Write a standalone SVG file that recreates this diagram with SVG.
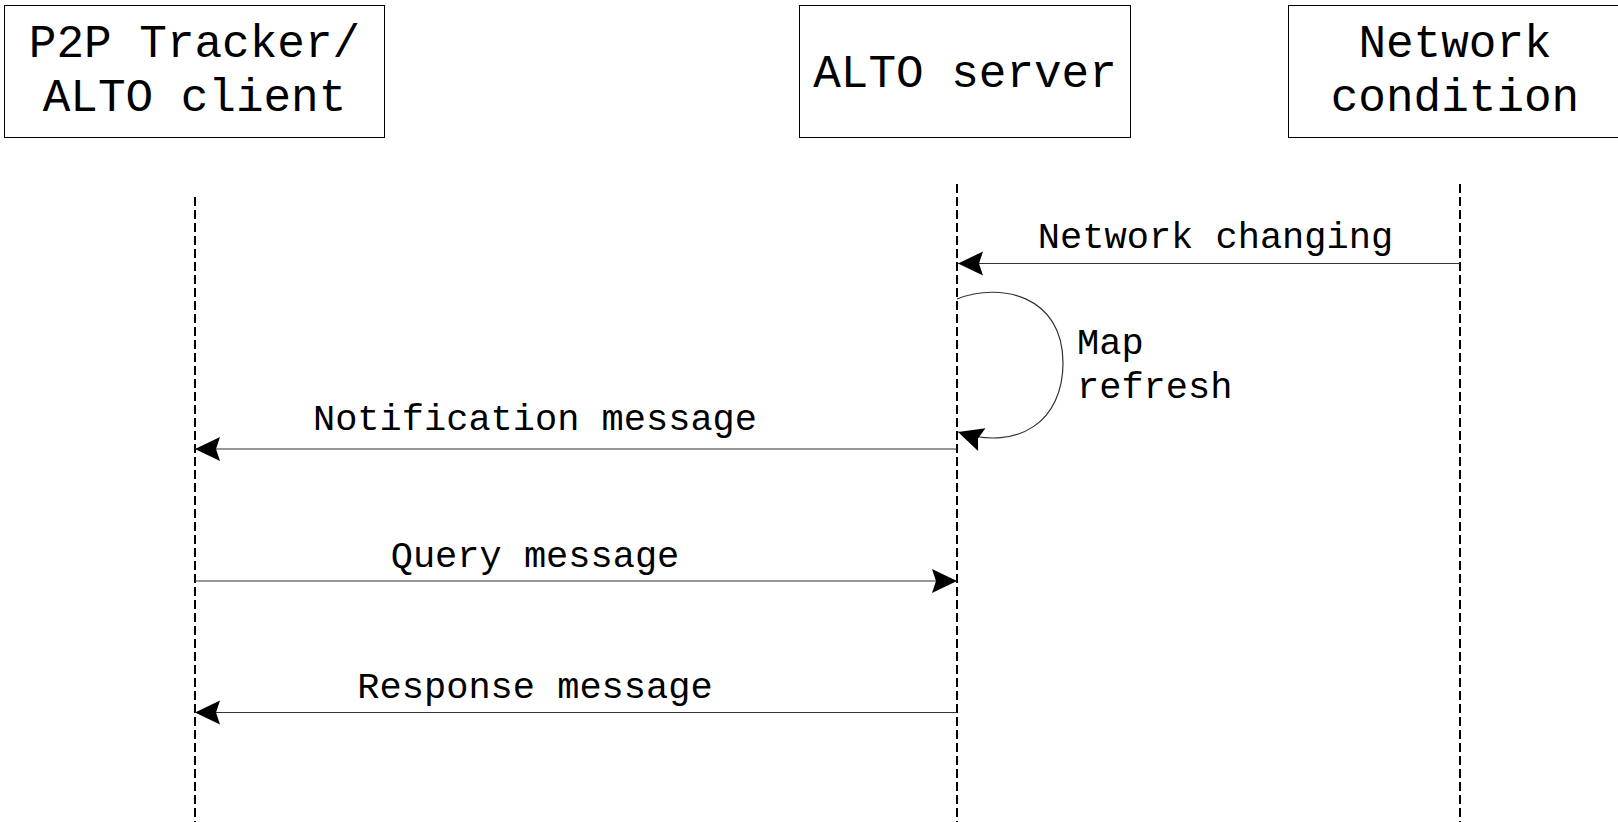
<svg xmlns="http://www.w3.org/2000/svg" width="1618" height="822" viewBox="0 0 1618 822">
<style>
.box{fill:#fff;stroke:#000;stroke-width:1}
.ttl{font-family:"Courier New","Nimbus Mono PS","FreeMono",Courier,"Liberation Mono",monospace;font-size:46px;fill:#000;text-anchor:middle}
.lbl{font-family:"Courier New","Nimbus Mono PS","FreeMono",Courier,"Liberation Mono",monospace;font-size:37px;fill:#000}
.life{stroke:#000;stroke-width:2;stroke-dasharray:9 4;fill:none}
.msg{stroke:#333;stroke-width:1.2;fill:none;marker-end:url(#arr)}
</style>
<defs>
<marker id="arr" markerUnits="userSpaceOnUse" markerWidth="30" markerHeight="28" viewBox="-27 -14 30 28" refX="0" refY="0" orient="auto">
<path d="M0,0 L-25,-12 L-21,0 L-25,12 Z" fill="#000"/>
</marker>
</defs>
<rect width="1618" height="822" fill="#fff"/>
<g id="node-tracker">
<rect class="box" x="4.5" y="5.5" width="380" height="132"/>
<text class="ttl" x="194.5" y="57">P2P Tracker/</text>
<text class="ttl" x="194.5" y="111">ALTO client</text>
</g>
<g id="node-server">
<rect class="box" x="799.5" y="5.5" width="331" height="132"/>
<text class="ttl" x="965" y="87">ALTO server</text>
</g>
<g id="node-network">
<rect class="box" x="1288.5" y="5.5" width="334" height="132"/>
<text class="ttl" x="1455" y="57">Network</text>
<text class="ttl" x="1455" y="111">condition</text>
</g>
<g id="lifelines">
<line class="life" x1="195" y1="197" x2="195" y2="822"/>
<line class="life" x1="957" y1="184" x2="957" y2="822"/>
<line class="life" x1="1460" y1="184" x2="1460" y2="822"/>
</g>
<g id="connectors">
<line class="msg" x1="1460" y1="263.5" x2="958" y2="263.5"/>
<path class="msg" d="M957,299 C1000,282 1063,295 1063,363 C1063,420 1020,452 958,432"/>
<line class="msg" x1="957" y1="449" x2="195" y2="449"/>
<line class="msg" x1="195" y1="581" x2="957" y2="581"/>
<line class="msg" x1="957" y1="712.5" x2="195" y2="712.5"/>
</g>
<g id="labels">
<text class="lbl" x="1215.5" y="248" text-anchor="middle">Network changing</text>
<text class="lbl" x="1077" y="354">Map</text>
<text class="lbl" x="1077" y="398">refresh</text>
<text class="lbl" x="535" y="430" text-anchor="middle">Notification message</text>
<text class="lbl" x="535" y="567" text-anchor="middle">Query message</text>
<text class="lbl" x="535" y="698" text-anchor="middle">Response message</text>
</g>
</svg>
